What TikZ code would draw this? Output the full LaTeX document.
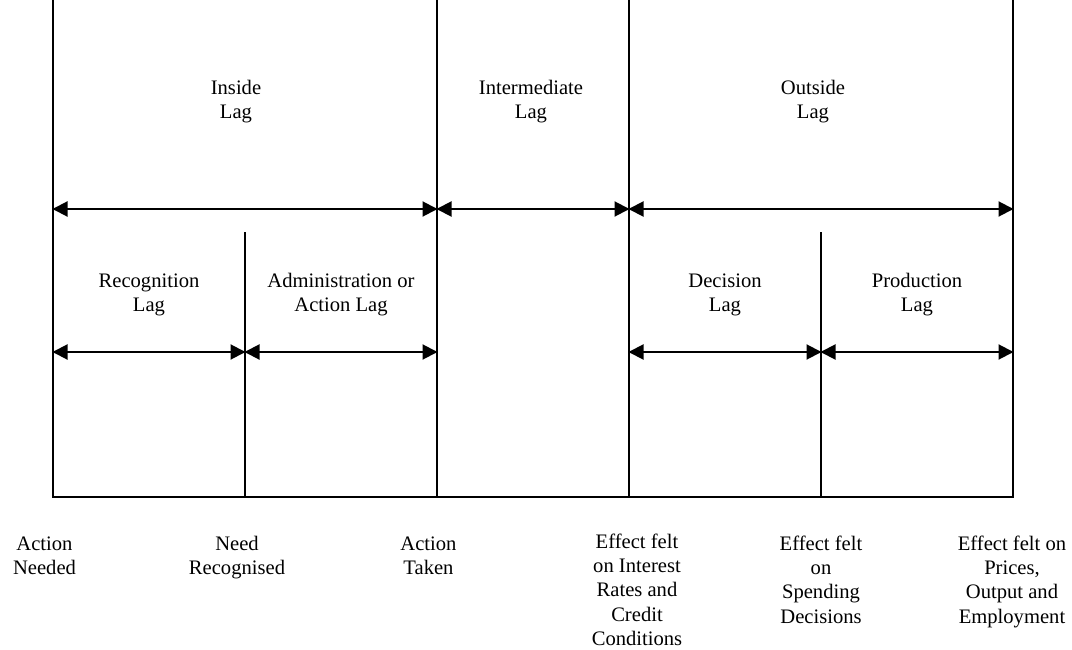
\documentclass[tikz,border=0pt]{standalone}
\usepackage{fontspec}
\setmainfont{Liberation Serif}
\usetikzlibrary{arrows.meta}
\begin{document}
\begin{tikzpicture}[x=1pt,y=-1pt,
  lbl/.style={align=center,anchor=base,inner sep=0pt,font=\fontsize{20.6}{24.3}\selectfont},
  rule/.style={line width=2pt,line cap=rect},
  span/.style={line width=2pt,{Triangle[length=15pt,width=15pt]}-{Triangle[length=15pt,width=15pt]},shorten <=-0.5pt,shorten >=-0.5pt}]
\useasboundingbox (0,0) rectangle (1072,650);
% column positions
\foreach \i/\x in {0/53,1/245,2/437,3/629,4/821,5/1013}{
  \coordinate (b\i) at (\x,497);
  \coordinate (u\i) at (\x,209);
  \coordinate (l\i) at (\x,352);
}
\coordinate (t0) at (53,0);
\coordinate (t2) at (437,0);
\coordinate (t3) at (629,0);
\coordinate (t5) at (1013,0);
\coordinate (t1) at (245,233);
\coordinate (t4) at (821,233);
% frame lines
\foreach \i in {0,...,5}{ \draw[rule] (t\i) -- (b\i); }
\draw[rule] (b0) -- (b5);
% spans
\draw[span] (u0) -- (u2);
\draw[span] (u2) -- (u3);
\draw[span] (u3) -- (u5);
\draw[span] (l0) -- (l1);
\draw[span] (l1) -- (l2);
\draw[span] (l3) -- (l4);
\draw[span] (l4) -- (l5);
% upper labels (anchor = baseline of last line)
\node[lbl] (inside) at (236,118.5) {Inside\\Lag};
\node[lbl] (inter) at (531,118.5) {Intermediate\\Lag};
\node[lbl] (outside) at (813,118.5) {Outside\\Lag};
% lower labels
\node[lbl] (recog) at (149,311.5) {Recognition\\Lag};
\node[lbl] (admin) at (341,311.5) {Administration or\\Action Lag};
\node[lbl] (decis) at (725,311.5) {Decision\\Lag};
\node[lbl] (prod) at (917,311.5) {Production\\Lag};
% bottom labels
\node[lbl] (e0) at (44.5,574.5) {Action\\Needed};
\node[lbl] (e1) at (237,574.5) {Need\\Recognised};
\node[lbl] (e2) at (428.5,574.5) {Action\\Taken};
\node[lbl] (e3) at (637,645.5) {Effect felt\\on Interest\\Rates and\\Credit\\Conditions};
\node[lbl] (e4) at (821,623) {Effect felt\\on\\Spending\\Decisions};
\node[lbl] (e5) at (1012,623) {Effect felt on\\Prices,\\Output and\\Employment};
\end{tikzpicture}
\end{document}
